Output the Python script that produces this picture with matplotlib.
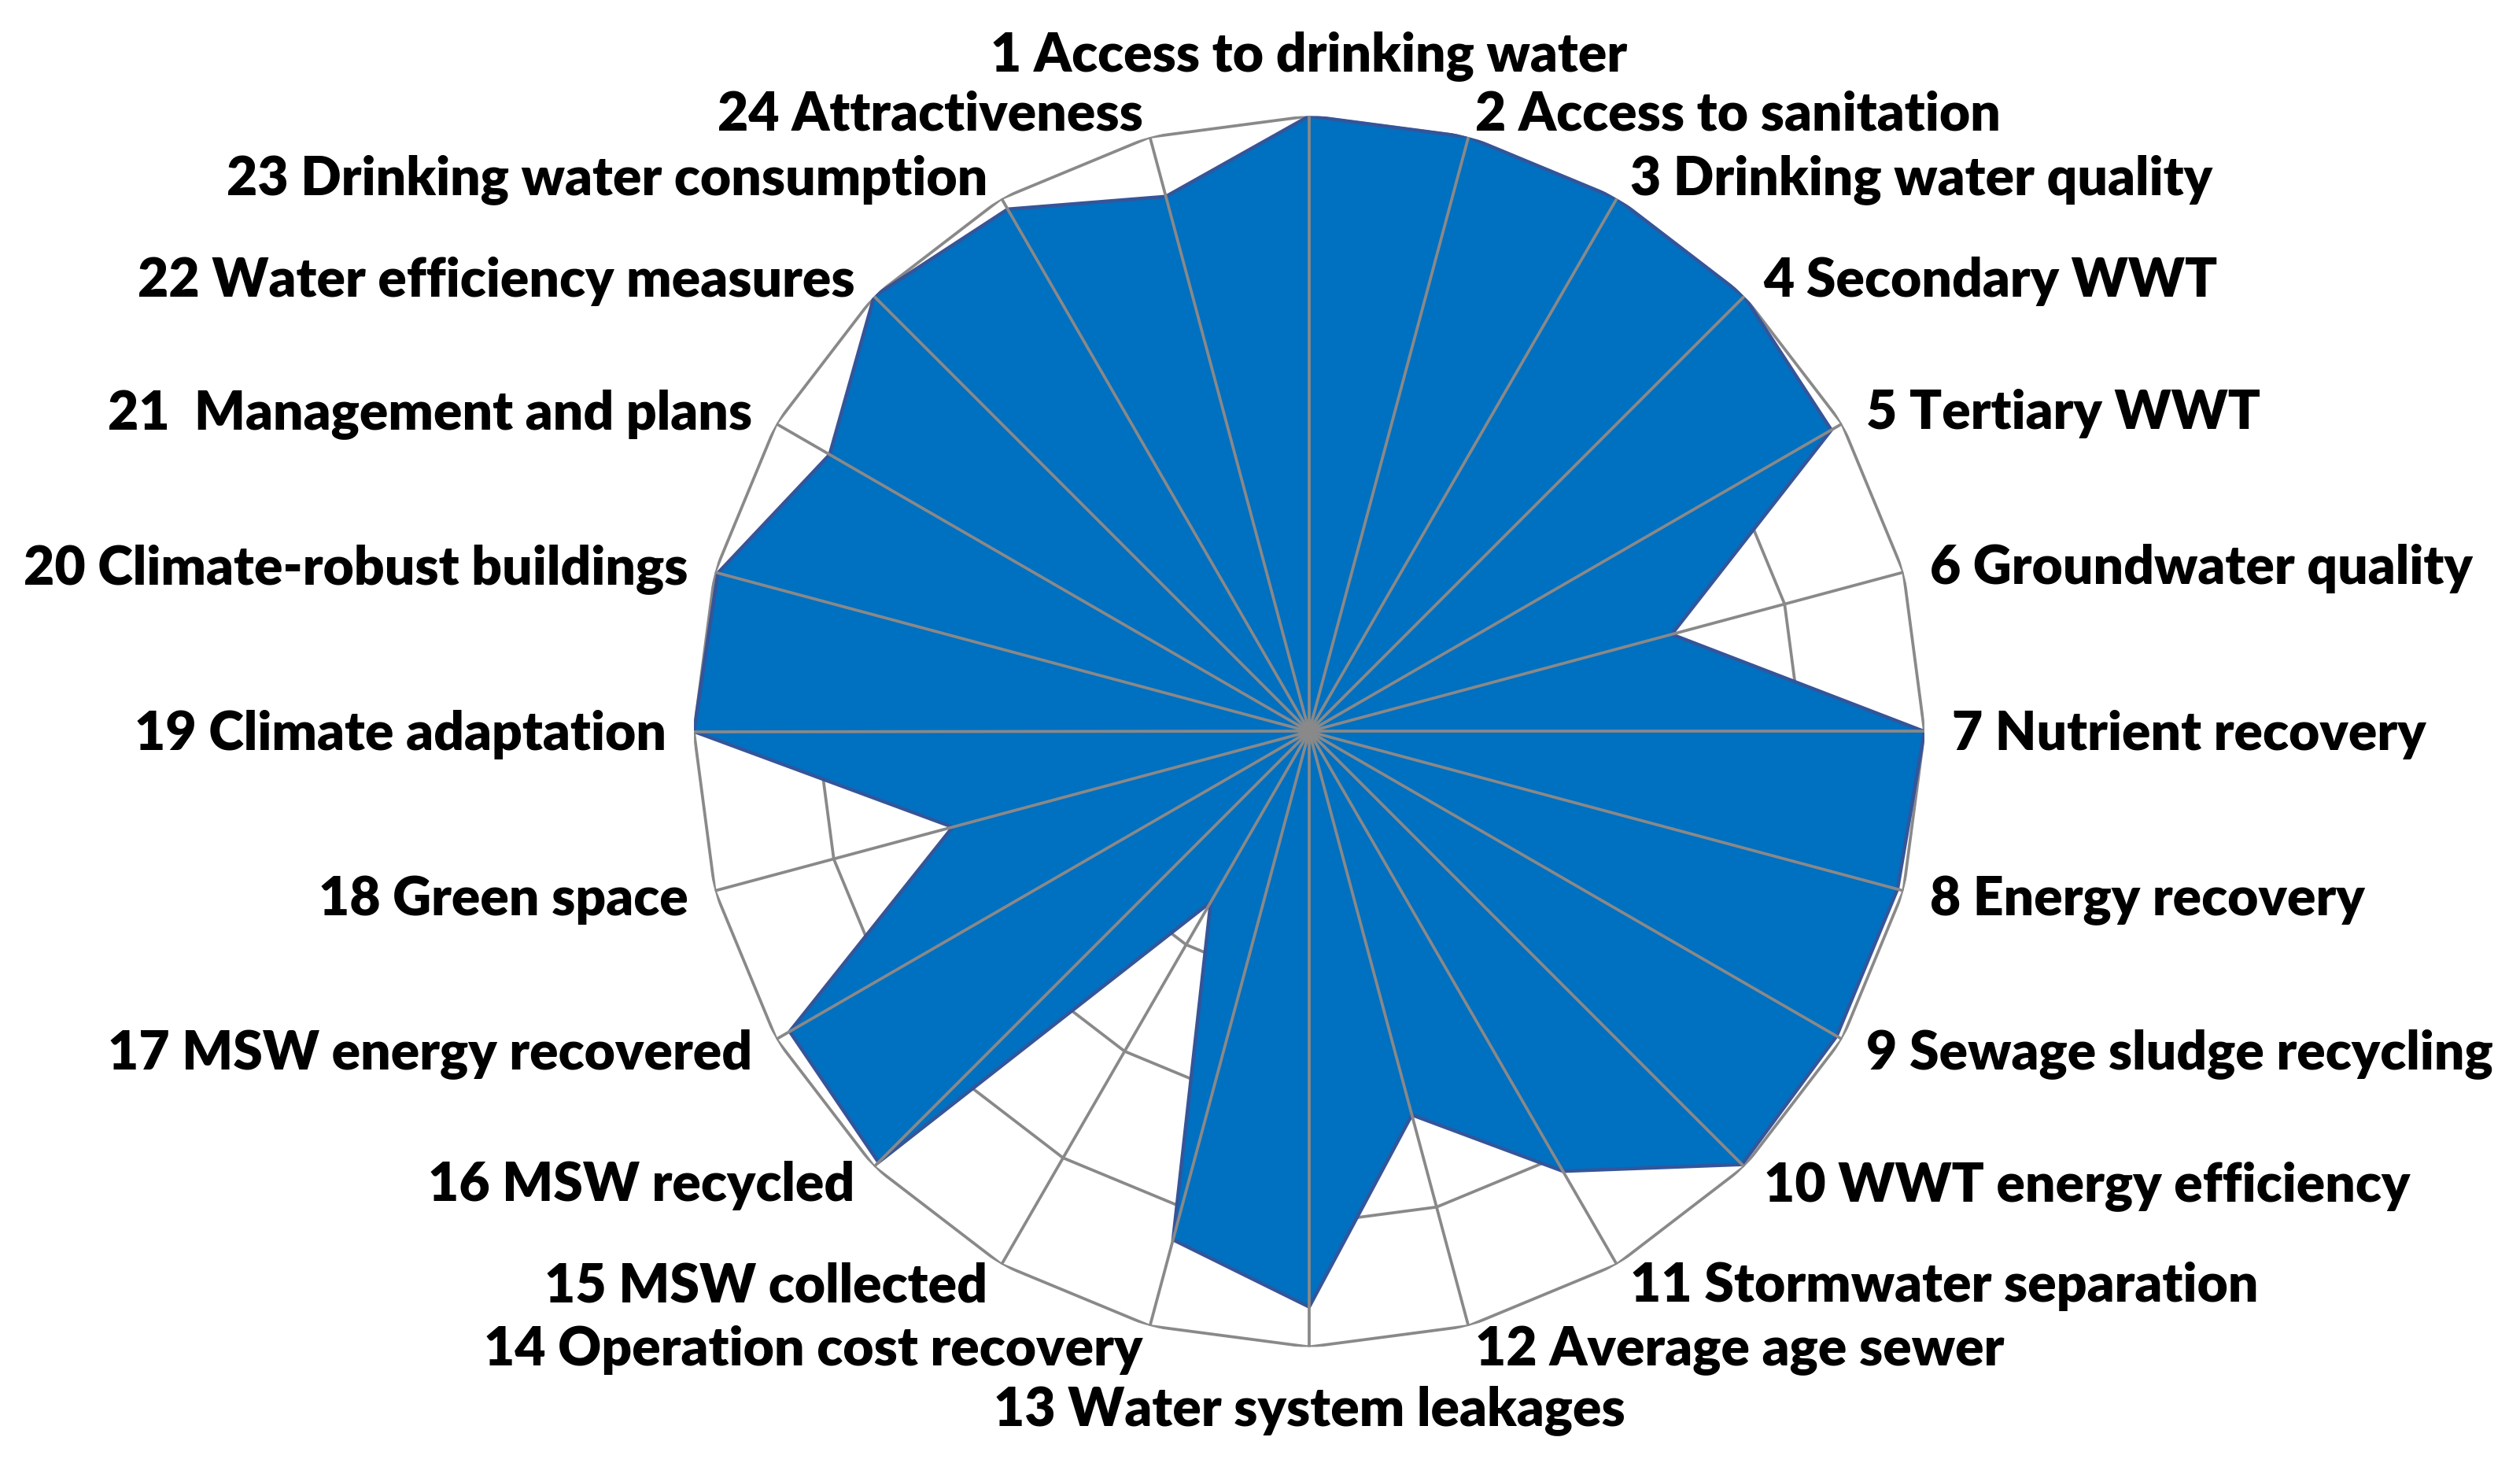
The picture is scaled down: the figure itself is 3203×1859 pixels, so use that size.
import numpy as np
import matplotlib
matplotlib.use("Agg")
import matplotlib.pyplot as plt

# ---------------- data ----------------
labels = [
    "1 Access to drinking water",
    "2 Access to sanitation",
    "3 Drinking water quality",
    "4 Secondary WWT",
    "5 Tertiary WWT",
    "6 Groundwater quality",
    "7 Nutrient recovery",
    "8 Energy recovery",
    "9 Sewage sludge recycling",
    "10 WWT energy efficiency",
    "11 Stormwater separation",
    "12 Average age sewer",
    "13 Water system leakages",
    "14 Operation cost recovery",
    "15 MSW collected",
    "16 MSW recycled",
    "17 MSW energy recovered",
    "18 Green space",
    "19 Climate adaptation",
    "20 Climate-robust buildings",
    "21  Management and plans",
    "22 Water efficiency measures",
    "23 Drinking water consumption",
    "24 Attractiveness",
]
scores = [10.0, 10.0, 10.0, 10.0, 9.8, 6.1, 10.0, 9.9, 9.9, 9.95, 8.25, 6.45,
          9.35, 8.55, 3.2, 9.9, 9.75, 6.0, 10.0, 9.95, 9.0, 10.0, 9.8, 9.0]
ring_levels = [2, 4, 6, 8, 10]
r_max = 10

# ---------------- style ----------------
GRAY = "#898989"
FILL = "#0070C0"
EDGE = "#34559A"
FONT = ["Lato", "DejaVu Sans"]
WEIGHT = "heavy"

W, H, DPI = 3203, 1859, 200
fig = plt.figure(figsize=(W / DPI, H / DPI), dpi=DPI)
fig.patch.set_facecolor("white")

cx, cy, R = 1664, 929.5, 782
ax = fig.add_axes([(cx - R) / W, (H - cy - R) / H, 2 * R / W, 2 * R / H],
                  projection="polar")
ax.set_theta_offset(np.pi / 2)
ax.set_theta_direction(-1)
ax.set_ylim(0, r_max)
ax.set_xticks([])
ax.set_yticks([])
ax.grid(False)
ax.spines["polar"].set_visible(False)
ax.patch.set_alpha(0)

n = len(labels)
theta = np.arange(n) * 2 * np.pi / n
tc = np.append(theta, theta[0])

# polygon rings (behind the fill)
for lev in ring_levels:
    ax.plot(tc, [lev] * (n + 1), color=GRAY, lw=1.35, zorder=1,
            solid_joinstyle="miter")

# filled series
vals = np.append(scores, scores[0])
ax.fill(tc, vals, facecolor=FILL, edgecolor=EDGE, lw=1.6, zorder=2,
        joinstyle="miter")

# spokes on top
for t in theta:
    ax.plot([t, t], [0, r_max], color=GRAY, lw=1.35, zorder=3)

# ---------------- labels ----------------
renderer = fig.canvas.get_renderer()
probe = fig.text(0, 0, labels[0], fontsize=20, fontweight=WEIGHT, family=FONT)
wpx = probe.get_window_extent(renderer).width
fs = 20 * 809 / wpx
probe.remove()

for lab, t in zip(labels, theta):
    s, c = np.sin(t), np.cos(t)
    if s > 0.01:
        ha = "left"
    elif s < -0.01:
        ha = "right"
    else:
        ha = "center"
    ox = 35 * s
    oy = (33 if c > 0 else 28) * c
    if abs(s) < 0.01:
        oy += 48 * np.sign(c)
    oy -= 23.5
    ax.annotate(lab, xy=(t, r_max), xytext=(ox, oy), textcoords="offset pixels",
                ha=ha, va="baseline", fontsize=fs, fontweight=WEIGHT,
                family=FONT, color="black", annotation_clip=False, zorder=5)

fig.savefig("out.png", dpi=DPI, facecolor="white")
